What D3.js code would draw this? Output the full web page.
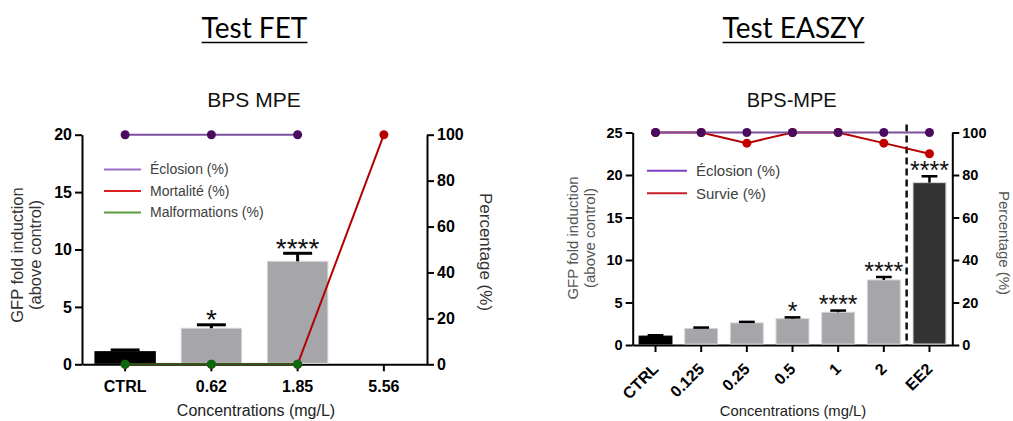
<!DOCTYPE html>
<html>
<head>
<meta charset="utf-8">
<script src="https://cdn.jsdelivr.net/npm/d3@7"></script>
<style>
  body { margin: 0; background: #fff; }
  text { font-family: "Liberation Sans", Arial, sans-serif; }
</style>
</head>
<body>
<script>
// ---- data: Test FET (BPS MPE)
const fetCategories = ['CTRL', '0.62', '1.85', '5.56'];
const fetGfp = [1.1, 3.14, 8.97, null];
const fetGfpErr = [0.15, 0.3, 0.7, null];
const fetStars = ['', '*', '****', ''];
const fetEclosion = [100, 100, 100, null];
const fetMortalite = [0, 0, 0, 100];
const fetMalformations = [0, 0, 0, null];
const fetLegend = ['Éclosion (%)', 'Mortalité (%)', 'Malformations (%)'];
const fetGfpTicks = [0, 5, 10, 15, 20];
const fetPctTicks = [0, 20, 40, 60, 80, 100];

// ---- data: Test EASZY (BPS-MPE)
const easzyCategories = ['CTRL', '0.125', '0.25', '0.5', '1', '2', 'EE2'];
const easzyGfp = [1.05, 1.95, 2.6, 3.1, 3.85, 7.65, 19.1];
const easzyGfpErr = [0.1, 0.1, 0.12, 0.15, 0.2, 0.35, 0.75];
const easzyStars = ['', '', '', '*', '****', '****', '****'];
const easzyEclosion = [100, 100, 100, 100, 100, 100, 100];
const easzySurvie = [100, 100, 95, 100, 100, 95, 90];
const easzyLegend = ['Éclosion (%)', 'Survie (%)'];
const easzyGfpTicks = [0, 5, 10, 15, 20, 25];
const easzyPctTicks = [0, 20, 40, 60, 80, 100];

const svg = d3.select('body').append('svg')
  .attr('width', 1013)
  .attr('height', 421);

// used to find where the asterisk glyph really sits
const ctx = document.createElement('canvas').getContext('2d');
function starBottom(size) {
  ctx.font = `${size}px "Liberation Sans", Arial, sans-serif`;
  const m = ctx.measureText('*');
  return -m.actualBoundingBoxDescent; // height of glyph bottom above baseline
}

function title(txt, cx) {
  const t = svg.append('text')
    .attr('x', cx).attr('y', 37.5)
    .attr('text-anchor', 'middle')
    .style('font-family', 'Lato, "Open Sans", sans-serif')
    .style('font-size', '28px')
    .attr('fill', '#000')
    .text(txt);
  const w = t.node().getComputedTextLength();
  svg.append('line')
    .attr('x1', cx - w / 2).attr('x2', cx + w / 2)
    .attr('y1', 42.5).attr('y2', 42.5)
    .attr('stroke', '#000').attr('stroke-width', 1.6);
}

title('Test FET', 254.5);
title('Test EASZY', 793.5);

function panel(o) {
  const g = svg.append('g');
  const x = d3.scaleBand().domain(o.categories).range([o.x0, o.x1]);
  const y = d3.scaleLinear().domain(o.gfpDomain).range([o.yBot, o.yTop]);
  const yp = d3.scaleLinear().domain([0, 100]).range([o.yBot, o.yTop]);
  const cx = c => x(c) + x.bandwidth() / 2;
  const bw = x.bandwidth() * o.barFrac;

  // subtitle
  g.append('text')
    .attr('x', o.subX).attr('y', 106.5)
    .attr('text-anchor', 'middle')
    .style('font-size', o.subSize + 'px')
    .attr('fill', '#111')
    .text(o.subtitle);

  // axes
  const styleAxis = (sel, fs) => {
    sel.select('.domain').attr('stroke', '#000').attr('stroke-width', 2);
    sel.selectAll('.tick line').attr('stroke', '#000').attr('stroke-width', 2);
    sel.selectAll('.tick text')
      .style('font-size', fs + 'px')
      .style('font-weight', 'bold')
      .attr('fill', '#000');
  };

  g.append('g')
    .attr('transform', `translate(${o.x0},0)`)
    .call(d3.axisLeft(y).tickValues(o.gfpTicks).tickSize(7).tickSizeOuter(0).tickPadding(3))
    .call(s => styleAxis(s, o.tickSize));

  g.append('g')
    .attr('transform', `translate(${o.x1},0)`)
    .call(d3.axisRight(yp).tickValues(o.pctTicks).tickSize(7).tickSizeOuter(0).tickPadding(3))
    .call(s => styleAxis(s, o.tickSize));

  const xa = g.append('g')
    .attr('transform', `translate(0,${o.yBot})`)
    .call(d3.axisBottom(x).tickSize(7).tickSizeOuter(0).tickPadding(o.xPad))
    .call(s => styleAxis(s, o.xTickSize));
  if (o.rotate) {
    xa.selectAll('.tick text')
      .attr('y', 0).attr('dy', 0)
      .attr('text-anchor', 'end')
      .attr('transform', 'translate(4,25) rotate(-45)');
  }

  // axis titles
  g.append('text')
    .attr('transform', `translate(${o.yTitleX},${o.yTitleY}) rotate(-90)`)
    .attr('text-anchor', 'middle')
    .style('font-size', o.yTitleSize + 'px')
    .attr('fill', o.titleColor)
    .selectAll('tspan')
    .data(['GFP fold induction', '(above control)'])
    .join('tspan')
    .attr('x', 0)
    .attr('dy', (d, i) => i === 0 ? 0 : '1.1em')
    .text(d => d);

  g.append('text')
    .attr('transform', `translate(${o.pTitleX},${o.yTitleY2}) rotate(90)`)
    .attr('text-anchor', 'middle')
    .style('font-size', o.pTitleSize + 'px')
    .attr('fill', o.titleColor)
    .text('Percentage (%)');

  g.append('text')
    .attr('x', o.xTitleX).attr('y', 416)
    .attr('text-anchor', 'middle')
    .style('font-size', o.xTitleSize + 'px')
    .attr('fill', '#222')
    .text('Concentrations (mg/L)');

  // bars
  const bars = o.categories.map((c, i) => ({ c, v: o.gfp[i], e: o.err[i], s: o.stars[i], i }))
    .filter(d => d.v != null);

  g.append('g').selectAll('rect')
    .data(bars).join('rect')
    .attr('x', d => cx(d.c) - bw / 2)
    .attr('width', bw)
    .attr('y', d => y(d.v))
    .attr('height', d => y(0) - y(d.v) - 1)
    .attr('fill', d => o.barColor(d))
    .attr('stroke', d => d.c === 'CTRL' ? '#000' : '#d4d4d6')
    .attr('stroke-width', 1);

  // error bars (upper only)
  const eb = g.append('g').attr('stroke', '#000').attr('stroke-width', o.errW);
  eb.selectAll('line.v').data(bars).join('line')
    .attr('class', 'v')
    .attr('x1', d => cx(d.c)).attr('x2', d => cx(d.c))
    .attr('y1', d => y(d.v)).attr('y2', d => y(d.v + d.e));
  eb.selectAll('line.c').data(bars).join('line')
    .attr('class', 'c')
    .attr('x1', d => cx(d.c) - bw * 0.24).attr('x2', d => cx(d.c) + bw * 0.24)
    .attr('y1', d => y(d.v + d.e)).attr('y2', d => y(d.v + d.e));

  // significance stars
  const sb = starBottom(o.starSize);
  g.append('g').selectAll('text')
    .data(bars.filter(d => d.s)).join('text')
    .attr('x', d => cx(d.c))
    .attr('y', d => y(d.v + d.e) - o.errW / 2 - o.starGap + sb)
    .attr('text-anchor', 'middle')
    .style('font-size', o.starSize + 'px')
    .attr('fill', '#111')
    .text(d => d.s);

  // dashed separator
  if (o.dashAfter) {
    const xd = x(o.dashAfter) + x.bandwidth();
    g.append('line')
      .attr('x1', xd).attr('x2', xd)
      .attr('y1', o.yTop - 8).attr('y2', o.yBot)
      .attr('stroke', '#111').attr('stroke-width', 2.5)
      .attr('stroke-dasharray', '7,4');
  }

  // percentage series
  o.series.forEach(s => {
    const pts = o.categories.map((c, i) => ({ c, v: s.values[i] }));
    g.append('path')
      .datum(pts)
      .attr('fill', 'none')
      .attr('stroke', s.line)
      .attr('stroke-width', 2)
      .attr('d', d3.line().defined(d => d.v != null).x(d => cx(d.c)).y(d => yp(d.v)));
    g.append('g').selectAll('circle')
      .data(pts.filter(d => d.v != null)).join('circle')
      .attr('cx', d => cx(d.c)).attr('cy', d => yp(d.v))
      .attr('r', 4.5)
      .attr('fill', s.marker);
  });

  // legend
  const lg = g.append('g');
  o.legend.forEach((label, i) => {
    const ly = o.legY + i * o.legStep;
    lg.append('line')
      .attr('x1', o.legX).attr('x2', o.legX + o.legLen)
      .attr('y1', ly).attr('y2', ly)
      .attr('stroke', o.legColors[i]).attr('stroke-width', 2);
    lg.append('text')
      .attr('x', o.legX + o.legLen + 9).attr('y', ly + o.legSize * 0.35)
      .style('font-size', o.legSize + 'px')
      .attr('fill', '#404040')
      .text(label);
  });
}

panel({
  categories: fetCategories, gfp: fetGfp, err: fetGfpErr, stars: fetStars,
  gfpDomain: [0, 20], gfpTicks: fetGfpTicks, pctTicks: fetPctTicks,
  x0: 82, x1: 427, yTop: 134.7, yBot: 364.3, barFrac: 0.7,
  subtitle: 'BPS MPE', subX: 254, subSize: 21,
  tickSize: 16, xTickSize: 16, xPad: 9, rotate: false,
  yTitleX: 23, yTitleY: 255, yTitleSize: 16.5, titleColor: '#333',
  pTitleX: 480, yTitleY2: 252, pTitleSize: 17,
  xTitleX: 256, xTitleSize: 16,
  barColor: d => d.c === 'CTRL' ? '#000' : '#a6a6aa',
  errW: 3, starSize: 28, starGap: 3,
  dashAfter: null,
  series: [
    { values: fetEclosion, line: '#7d4f9e', marker: '#4a0b5e' },
    { values: fetMortalite, line: '#b40000', marker: '#b40000' },
    { values: fetMalformations, line: '#1f5a14', marker: '#0b6a10' }
  ],
  legend: fetLegend, legColors: ['#9b6fc7', '#e02020', '#5b9a3c'],
  legX: 104, legLen: 37, legY: 169.5, legStep: 21.5, legSize: 14
});

panel({
  categories: easzyCategories, gfp: easzyGfp, err: easzyGfpErr, stars: easzyStars,
  gfpDomain: [0, 25], gfpTicks: easzyGfpTicks, pctTicks: easzyPctTicks,
  x0: 632.7, x1: 952.3, yTop: 132.5, yBot: 345, barFrac: 0.72,
  subtitle: 'BPS-MPE', subX: 791.7, subSize: 20,
  tickSize: 14.5, xTickSize: 16, xPad: 5, rotate: true,
  yTitleX: 578, yTitleY: 238, yTitleSize: 15, titleColor: '#555',
  pTitleX: 999, yTitleY2: 243, pTitleSize: 15,
  xTitleX: 793, xTitleSize: 14.8,
  barColor: d => d.c === 'CTRL' ? '#000' : d.c === 'EE2' ? '#333333' : '#a6a6aa',
  errW: 2.5, starSize: 25, starGap: 4,
  dashAfter: '2',
  series: [
    { values: easzySurvie, line: '#b40000', marker: '#c00000' },
    { values: easzyEclosion, line: '#7d4f9e', marker: '#4a0b5e' }
  ],
  legend: easzyLegend, legColors: ['#7b3fc4', '#c8202a'],
  legX: 647, legLen: 40, legY: 170.7, legStep: 22.6, legSize: 15
});
</script>
</body>
</html>
